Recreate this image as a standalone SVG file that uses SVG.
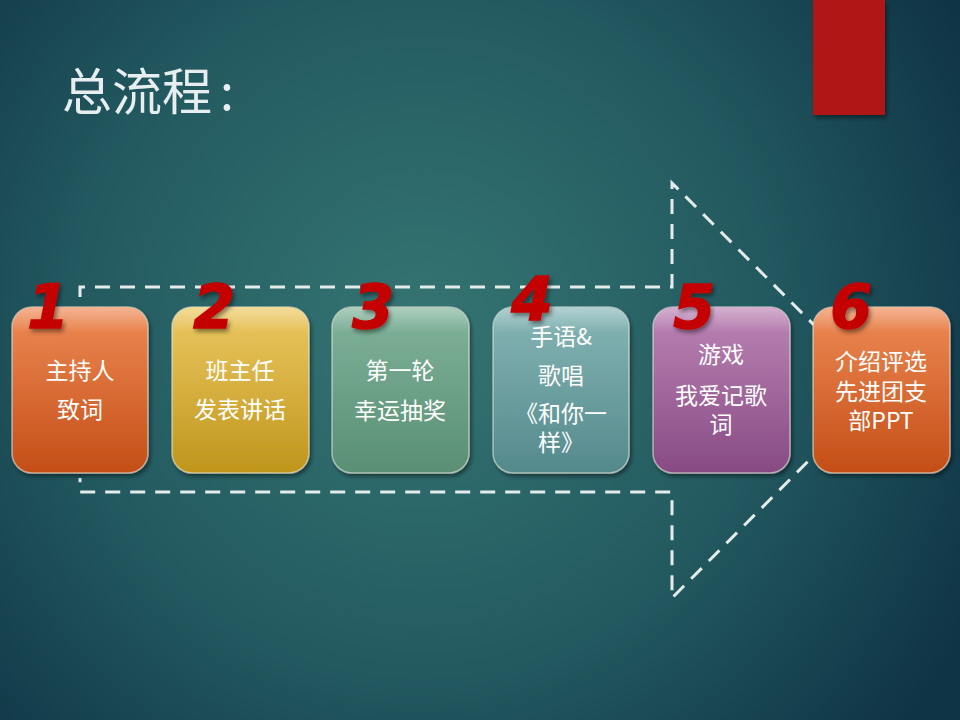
<svg xmlns="http://www.w3.org/2000/svg" width="960" height="720" viewBox="0 0 960 720">
<defs>
<radialGradient id="bg" cx="420" cy="330" r="620" gradientUnits="userSpaceOnUse">
<stop offset="0" stop-color="#357573"/>
<stop offset="0.55" stop-color="#235a60"/>
<stop offset="1" stop-color="#0f3446"/>
</radialGradient>
<linearGradient id="gOr" x1="0" y1="0" x2="0" y2="1"><stop offset="0" stop-color="#ee8a55"/><stop offset="1" stop-color="#c44e16"/></linearGradient>
<linearGradient id="gYe" x1="0" y1="0" x2="0" y2="1"><stop offset="0" stop-color="#ecc862"/><stop offset="1" stop-color="#bf961c"/></linearGradient>
<linearGradient id="gGr" x1="0" y1="0" x2="0" y2="1"><stop offset="0" stop-color="#80b39a"/><stop offset="1" stop-color="#5a8f74"/></linearGradient>
<linearGradient id="gTe" x1="0" y1="0" x2="0" y2="1"><stop offset="0" stop-color="#86b6b6"/><stop offset="1" stop-color="#54898b"/></linearGradient>
<linearGradient id="gPu" x1="0" y1="0" x2="0" y2="1"><stop offset="0" stop-color="#bc84b6"/><stop offset="1" stop-color="#874b83"/></linearGradient>
<linearGradient id="gloss" x1="0" y1="0" x2="0" y2="1"><stop offset="0" stop-color="#fff" stop-opacity="0.35"/><stop offset="0.15" stop-color="#fff" stop-opacity="0"/></linearGradient>
<filter id="sh" x="-20%" y="-20%" width="140%" height="140%"><feDropShadow dx="2" dy="3" stdDeviation="2" flood-color="#000" flood-opacity="0.45"/></filter>
</defs>
<style>
.box{stroke:#f4f0e6;stroke-opacity:0.55;stroke-width:1.5;filter:url(#sh)}
.gl{fill:url(#gloss)}
.t{font-family:"Noto Sans CJK SC","Liberation Serif",serif;font-size:23px;fill:#ffffff;text-anchor:middle}
.n{font-family:"DejaVu Sans","Liberation Sans",sans-serif;font-weight:bold;font-style:italic;font-size:60px;fill:#c40606;stroke:#c40606;stroke-width:1.5;text-anchor:middle;filter:url(#sh)}
.dash{fill:none;stroke:#e4ecea;stroke-width:3;stroke-dasharray:15 10}
</style>
<rect width="960" height="720" fill="url(#bg)"/>
<rect x="813" y="0" width="72" height="115" fill="#b01818" filter="url(#sh)"/>
<text x="62" y="110" font-family="Noto Sans CJK SC, sans-serif" font-size="50" fill="#e8eef0">总流程<tspan dx="8">:</tspan></text>
<g id="connectors">
<path class="dash" d="M80,297 L80,287 L672,287 L672,183 L879,390 L672,598 L672,492 L80,492 L80,478"/>
</g>
<g id="node1"><rect class="box" x="12" y="307" width="136" height="166" rx="20" fill="url(#gOr)"/><rect class="gl" x="13" y="308" width="134" height="164" rx="19"/><text class="t" x="80" y="379">主持人</text><text class="t" x="80" y="418">致词</text><text class="n" x="48" y="328">1</text></g>
<g id="node2"><rect class="box" x="172" y="307" width="137" height="166" rx="20" fill="url(#gYe)"/><rect class="gl" x="173" y="308" width="135" height="164" rx="19"/><text class="t" x="240" y="379">班主任</text><text class="t" x="240" y="418">发表讲话</text><text class="n" x="214" y="328">2</text></g>
<g id="node3"><rect class="box" x="332" y="307" width="137" height="166" rx="20" fill="url(#gGr)"/><rect class="gl" x="333" y="308" width="135" height="164" rx="19"/><text class="t" x="400" y="379">第一轮</text><text class="t" x="400" y="419">幸运抽奖</text><text class="n" x="373" y="328">3</text></g>
<g id="node4"><rect class="box" x="493" y="307" width="136" height="166" rx="20" fill="url(#gTe)"/><rect class="gl" x="494" y="308" width="134" height="164" rx="19"/><text class="t" x="561" y="345">手语&amp;</text><text class="t" x="561" y="384">歌唱</text><text class="t" x="561" y="422">《和你一</text><text class="t" x="561" y="451">样》</text><text class="n" x="532" y="320">4</text></g>
<g id="node5"><rect class="box" x="653" y="307" width="137" height="166" rx="20" fill="url(#gPu)"/><rect class="gl" x="654" y="308" width="135" height="164" rx="19"/><text class="t" x="721" y="363">游戏</text><text class="t" x="721" y="404">我爱记歌</text><text class="t" x="721" y="433">词</text><text class="n" x="694" y="328">5</text></g>
<g id="node6"><rect class="box" x="813" y="307" width="137" height="166" rx="20" fill="url(#gOr)"/><rect class="gl" x="814" y="308" width="135" height="164" rx="19"/><text class="t" x="881" y="370">介绍评选</text><text class="t" x="881" y="400">先进团支</text><text class="t" x="881" y="429">部PPT</text><text class="n" x="851" y="328">6</text></g>
</svg>
